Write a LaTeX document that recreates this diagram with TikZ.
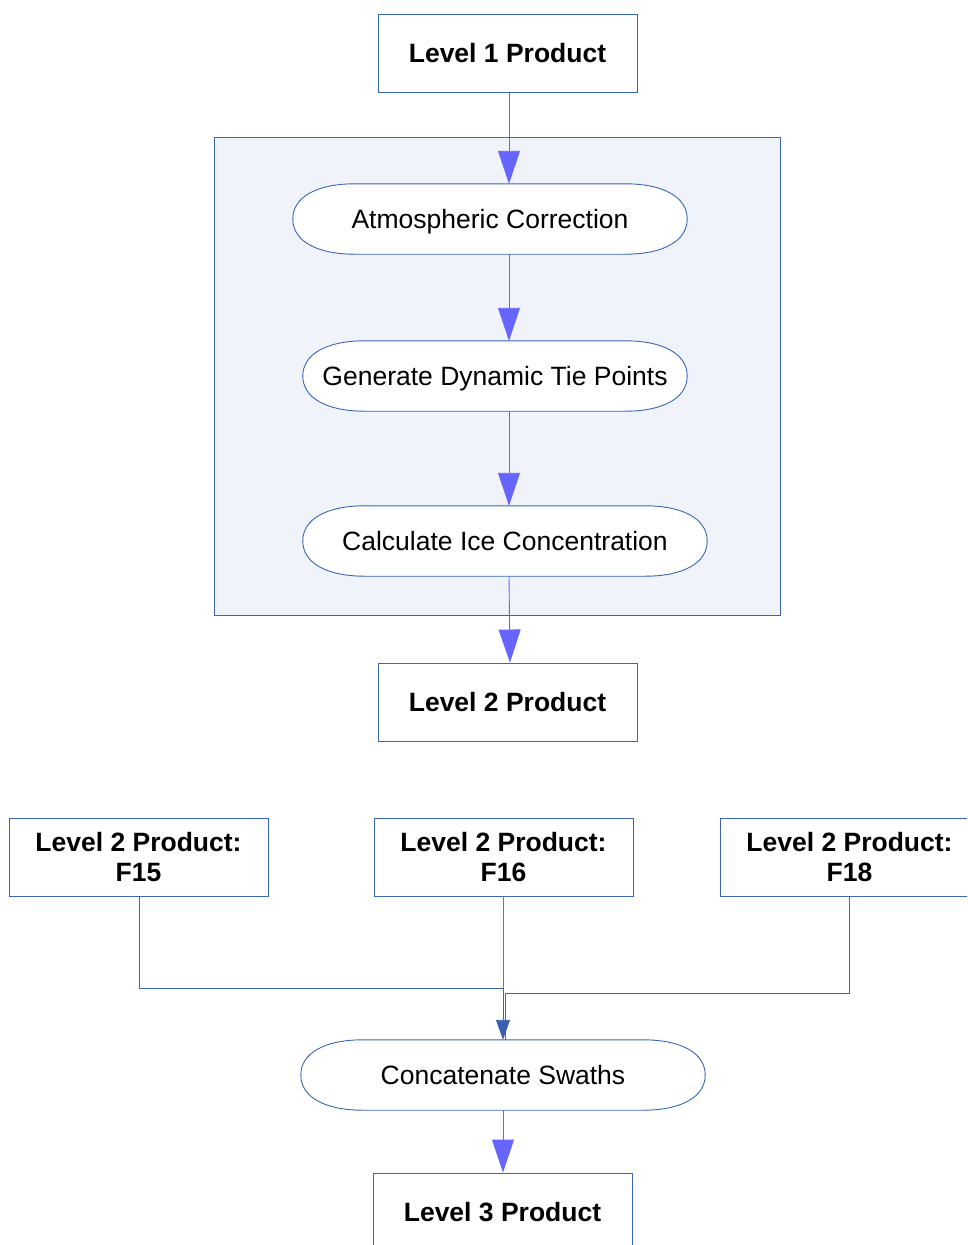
\documentclass[tikz,border=0pt]{standalone}
\usepackage{fontspec}
\setmainfont{Liberation Sans}
\usetikzlibrary{arrows.meta,calc}
\definecolor{bordc}{HTML}{3A66B8}
\definecolor{arrc}{HTML}{6666FF}
\definecolor{panelc}{HTML}{F0F3F9}
\definecolor{mergec}{HTML}{3A5FB0}
\pgfdeclarelayer{bg}
\pgfsetlayers{bg,main}
\tikzset{
 prodbox/.style={draw=bordc, line width=0.9pt, fill=white, minimum width=259pt, minimum height=78pt, inner sep=0pt, align=center, font=\fontsize{26.5}{30}\selectfont\bfseries},
 procnode/.style={minimum width=#1, minimum height=70pt, inner sep=0pt, text height=19pt, text depth=0pt, font=\fontsize{26.5}{30}\selectfont},
 outl/.style={draw=bordc, line width=0.9pt, fill=white},
 flowarrow/.style={draw=arrc, line width=0.9pt, -{Triangle[length=33pt,width=22pt]}},
 conn/.style={draw=bordc, line width=0.9pt},
 mergearrow/.style={draw=bordc, line width=0.9pt, -{Triangle[length=20pt,width=14pt,color=mergec]}},
 panel/.style={draw=bordc, line width=0.9pt, fill=panelc}
}
\newcommand\stadiumoutline[1]{%
 \begin{pgfonlayer}{bg}
 \draw[outl] (#1.west) .. controls +(0,-22) and +(-38,0) .. ($(#1.north west)+(62,0)$)
   -- ($(#1.north east)+(-62,0)$) .. controls +(38,0) and +(0,-22) .. (#1.east)
   .. controls +(0,22) and +(38,0) .. ($(#1.south east)+(-62,0)$)
   -- ($(#1.south west)+(62,0)$) .. controls +(-38,0) and +(0,22) .. (#1.west) -- cycle;
 \end{pgfonlayer}}
\begin{document}
\begin{tikzpicture}[x=1pt,y=-1pt]
\useasboundingbox (0,0) rectangle (967,1245);
\clip (0,0) rectangle (967,1245);
\begin{pgfonlayer}{bg}
\node[panel, minimum width=566pt, minimum height=478pt, inner sep=0pt] (pan) at (497,376) {};
\end{pgfonlayer}
\node[prodbox] (l1) at (507.5,53) {Level 1 Product};
\node[procnode=394pt] (ac) at (490,219) {Atmospheric Correction};
\stadiumoutline{ac}
\node[procnode=384pt] (gd) at (495,376) {Generate Dynamic Tie Points};
\stadiumoutline{gd}
\node[procnode=404pt] (ci) at (505,541) {Calculate Ice Concentration};
\stadiumoutline{ci}
\node[prodbox] (l2) at (507.5,702) {Level 2 Product};
\node[prodbox] (f15) at (138.5,857) {Level 2 Product:\\F15};
\node[prodbox] (f16) at (503.5,857) {Level 2 Product:\\F16};
\node[prodbox] (f18) at (849.5,857) {Level 2 Product:\\F18};
\node[procnode=404pt] (cs) at (503,1075) {Concatenate Swaths};
\stadiumoutline{cs}
\node[prodbox] (l3) at (502.5,1212) {Level 3 Product};

\draw[flowarrow] (l1.south -| 509,0) -- (ac.north -| 509,0);
\draw[flowarrow] (ac.south -| 509,0) -- (gd.north -| 509,0);
\draw[flowarrow] (gd.south -| 509,0) -- (ci.north -| 509,0);
\draw[flowarrow] (ci.south -| 509,0) -- (l2.north -| 510,0);
\coordinate (j15) at (503,988);
\coordinate (j18) at (505,993);
\draw[conn] (f18.south -| 849,0) |- (j18) -- (cs.north -| 505,0);
\draw[draw=arrc, line width=0.9pt] (f16.south -| 503,0) -- (j15);
\draw[mergearrow] (f15.south -| 139,0) |- (j15) -- (cs.north -| 503,0);
\draw[flowarrow] (cs.south) -- (l3.north -| 503,0);
\end{tikzpicture}
\end{document}
